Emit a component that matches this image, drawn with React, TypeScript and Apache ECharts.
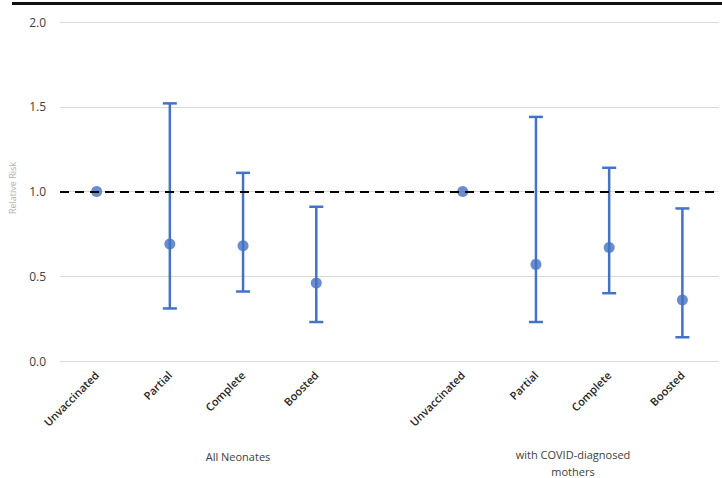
import React, { useEffect, useRef } from "react";
import * as echarts from "echarts";

const categories = ["Unvaccinated", "Partial", "Complete", "Boosted", "", "Unvaccinated", "Partial", "Complete", "Boosted"];
const pointValues = [1.0, 0.69, 0.68, 0.46, null, 1.0, 0.57, 0.67, 0.36];
const lowerValues = [null, 0.31, 0.41, 0.23, null, null, 0.23, 0.40, 0.14];
const upperValues = [null, 1.52, 1.11, 0.91, null, null, 1.44, 1.14, 0.90];
const groupLabels = ["All Neonates", "with COVID-diagnosed\nmothers"];
const yTicks = { min: 0, max: 2, interval: 0.5 };

export default function App() {
  const ref = useRef<HTMLDivElement>(null);
  useEffect(() => {
    if (!ref.current) return;
    const chart = echarts.init(ref.current, undefined, { renderer: "svg" });
    const blue = "#4472C4";
    const errData: any[] = [];
    categories.forEach((_, i) => {
      if (lowerValues[i] != null && upperValues[i] != null) errData.push([i, lowerValues[i], upperValues[i]]);
    });
    chart.setOption({
      animation: false,
      grid: { left: 60, right: 3, top: 22, bottom: 117, containLabel: false },
      xAxis: {
        type: "category",
        data: categories,
        axisLine: { show: false },
        axisTick: { show: false },
        axisLabel: {
          rotate: 45,
          interval: 0,
          color: "#262626",
          fontSize: 11,
          fontWeight: 600,
          fontFamily: "Open Sans",
          margin: 12,
        },
        splitLine: { show: false },
      },
      yAxis: {
        type: "value",
        min: yTicks.min,
        max: yTicks.max,
        interval: yTicks.interval,
        axisLine: { show: false },
        axisTick: { show: false },
        axisLabel: {
          formatter: (v: number) => v.toFixed(1),
          color: "#404040",
          fontSize: 12,
          fontFamily: "Open Sans",
          margin: 14,
        },
        splitLine: { lineStyle: { color: "#d9d9d9", width: 1 } },
      },
      series: [
        {
          type: "custom",
          data: errData,
          z: 2,
          renderItem: (params: any, api: any) => {
            const x = api.value(0);
            const lo = api.coord([x, api.value(1)]);
            const hi = api.coord([x, api.value(2)]);
            const hw = 7;
            const style = { stroke: blue, lineWidth: 2.5, fill: "none" };
            return {
              type: "group",
              children: [
                { type: "line", shape: { x1: hi[0], y1: hi[1], x2: lo[0], y2: lo[1] }, style },
                { type: "line", shape: { x1: hi[0] - hw, y1: hi[1], x2: hi[0] + hw, y2: hi[1] }, style },
                { type: "line", shape: { x1: lo[0] - hw, y1: lo[1], x2: lo[0] + hw, y2: lo[1] }, style },
              ],
            };
          },
        },
        {
          type: "scatter",
          data: pointValues.map((v, i) => (v == null ? null : [i, v])),
          symbol: "circle",
          symbolSize: 11,
          itemStyle: { color: blue },
          z: 3,
          markLine: {
            silent: true,
            symbol: "none",
            label: { show: false },
            lineStyle: { color: "#000", type: [9, 6], width: 2 },
            data: [{ yAxis: 1 }],
          },
        },
      ],
      graphic: [
        { type: "line", shape: { x1: 12, y1: 3.5, x2: 722, y2: 3.5 }, style: { stroke: "#111", lineWidth: 3 } },
        {
          type: "text",
          x: 238,
          y: 456,
          style: { text: groupLabels[0], fill: "#404040", font: "11px 'Open Sans'", align: "center", verticalAlign: "middle" },
        },
        {
          type: "text",
          x: 573,
          y: 463,
          style: { text: groupLabels[1], fill: "#404040", font: "11px 'Open Sans'", align: "center", verticalAlign: "middle", lineHeight: 17 },
        },
        {
          type: "text",
          x: 12,
          y: 188,
          rotation: Math.PI / 2,
          style: { text: "Relative Risk", fill: "#b0b0b0", font: "9px 'Open Sans'", align: "center", verticalAlign: "middle" },
        },
      ],
    });
    return () => chart.dispose();
  }, []);
  return <div ref={ref} style={{ position: "fixed", left: 0, top: 0, width: 722, height: 478, background: "#fff" }} />;
}
